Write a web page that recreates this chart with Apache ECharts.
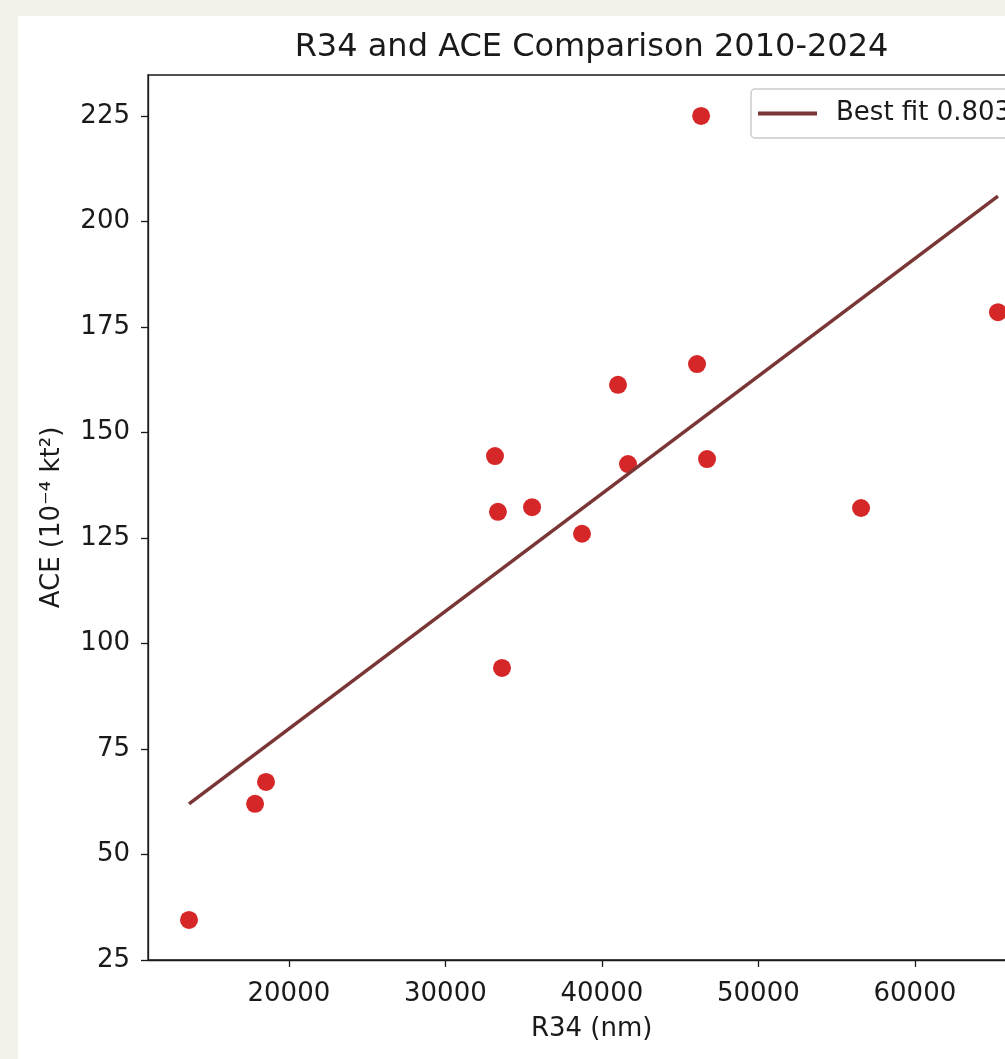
<!DOCTYPE html>
<html>
<head>
<meta charset="utf-8">
<title>R34 and ACE Comparison 2010-2024</title>
<script src="https://cdn.jsdelivr.net/npm/echarts@6/dist/echarts.min.js"></script>
<style>
  html, body { margin: 0; padding: 0; background: #f4f1ea; overflow: hidden; width: 1005px; height: 1059px; }
  /* the plot runs past the right edge of the page, as in the cropped original */
  #chart { position: absolute; left: 18px; top: 16px; width: 1018px; height: 1043px; background: #fff; }
</style>
</head>
<body>
<div id="chart"></div>
<script>
// values
const r34 = [13620, 17840, 18540, 33170, 33360, 33620, 35540, 38730, 41030, 41670, 46080, 46340, 46720, 56560, 65310]
const ace = [34.5, 62.0, 67.2, 144.4, 131.2, 94.2, 132.3, 126.0, 161.3, 142.5, 166.2, 225.0, 143.7, 132.1, 178.5]
const fitX = [13620, 65310]
const fitY = [62.0, 206.0]
const fitLabel = 'Best fit 0.803'
const xTicks = [20000, 30000, 40000, 50000, 60000]
const yTicks = [25, 50, 75, 100, 125, 150, 175, 200, 225]

const FONT = 'DejaVu Sans'
const INK = '#1a1a1a'
const DOT = '#d62728'
const FIT = '#7a3535'

const chart = echarts.init(document.getElementById('chart'))

const axisCommon = {
  type: 'value',
  splitLine: { show: false },
  axisLine: { show: true, lineStyle: { color: INK, width: 1.3 } },
  nameLocation: 'middle',
  nameTextStyle: { fontFamily: FONT, fontSize: 26, color: INK }
}

const option = {
  animation: false,
  graphic: [{
    type: 'text',
    x: 573.5,
    y: 32,
    style: {
      text: 'R34 and ACE Comparison 2010-2024',
      font: '32px "DejaVu Sans"',
      fill: INK,
      textAlign: 'center',
      textVerticalAlign: 'middle'
    }
  }],
  grid: {
    show: true,
    left: 130,
    top: 59,
    bottom: 99,
    right: 0.6,
    borderColor: INK,
    borderWidth: 1.3,
    backgroundColor: 'transparent'
  },
  legend: {
    data: [{ name: fitLabel, icon: 'rect' }],
    left: 733,
    top: 73,
    orient: 'vertical',
    itemWidth: 59,
    itemHeight: 4,
    padding: [10, 8, 10, 7],
    borderColor: '#cccccc',
    borderWidth: 1.5,
    borderRadius: 4,
    backgroundColor: 'rgba(255,255,255,0.8)',
    textStyle: { fontFamily: FONT, fontSize: 26, color: INK, lineHeight: 29, padding: [0, 0, 0, 14] }
  },
  xAxis: Object.assign({}, axisCommon, {
    min: 11000,
    max: 67700,
    name: 'R34 (nm)',
    nameGap: 56,
    axisTick: { show: true, customValues: xTicks, length: 7, lineStyle: { color: INK, width: 1.3 } },
    axisLabel: { customValues: xTicks, formatter: v => String(v), fontFamily: FONT, fontSize: 26, color: INK, margin: 21 }
  }),
  yAxis: Object.assign({}, axisCommon, {
    min: 25,
    max: 234.7,
    name: 'ACE (10⁻⁴ kt²)',
    nameGap: 83,
    axisTick: { show: true, customValues: yTicks, length: 7, lineStyle: { color: INK, width: 1.3 } },
    axisLabel: { customValues: yTicks, formatter: v => String(v), fontFamily: FONT, fontSize: 26, color: INK, margin: 18 }
  }),
  series: [
    {
      name: 'R34 vs ACE',
      type: 'scatter',
      symbol: 'circle',
      symbolSize: 18,
      itemStyle: { color: DOT, opacity: 1 },
      data: r34.map((x, i) => [x, ace[i]])
    },
    {
      name: fitLabel,
      type: 'line',
      symbol: 'none',
      lineStyle: { color: FIT, width: 3.5 },
      itemStyle: { color: FIT },
      data: fitX.map((x, i) => [x, fitY[i]])
    }
  ]
}

chart.setOption(option)
</script>
</body>
</html>
